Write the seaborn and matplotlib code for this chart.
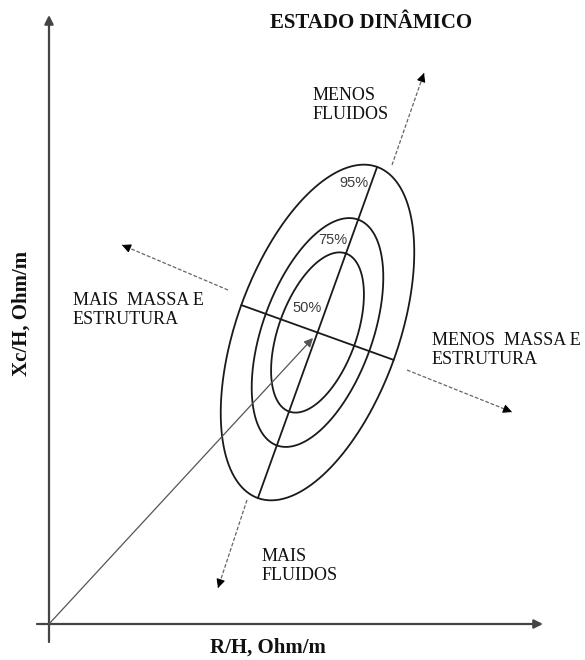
import numpy as np
import pandas as pd
import seaborn as sns
import matplotlib.pyplot as plt

# Reference point of the tolerance ellipses (R/H, Xc/H)
ellipse_center = [268.5, 291.5]
ellipse_angle = 70.2  # degrees, direction of the major axis
ellipse_levels = ['50%', '75%', '95%']
semi_major = [84, 120, 176]
semi_minor = [39, 55, 81]
level_label_x = [258, 284, 305]
level_label_y = [316, 384, 441]

# Mean vector from origin to the centre
vector_start = [0, 0]
vector_end = [264, 286]

# Direction arrows: start -> tip
arrow_names = ['menos_fluidos', 'mais_fluidos', 'mais_massa', 'menos_massa']
arrow_start_x = [343, 198, 179, 358]
arrow_start_y = [459, 124, 334, 254]
arrow_tip_x = [375, 169, 73, 463]
arrow_tip_y = [551, 36, 379, 212]

direction_texts = ['MENOS\nFLUIDOS', 'MAIS\nFLUIDOS', 'MAIS  MASSA E\nESTRUTURA', 'MENOS  MASSA E\nESTRUTURA']
text_x = [264, 213, 24, 383]
text_y = [537, 76, 332, 292]

sns.set_theme(style='white')
plt.rcParams['font.family'] = ['Liberation Serif', 'DejaVu Serif']

fig = plt.figure(figsize=(5.85, 6.6), dpi=100)
ax = fig.add_axes([0, 0, 1, 1])
ax.set_xlim(-49, 536)
ax.set_ylim(-36, 624)
ax.axis('off')

# axes drawn as arrows
ax.annotate('', xy=(0, 609), xytext=(0, -18),
            arrowprops=dict(arrowstyle='-|>', color='#444444', lw=1.6, mutation_scale=13, shrinkA=0, shrinkB=0))
ax.annotate('', xy=(494, 0), xytext=(-12, 0),
            arrowprops=dict(arrowstyle='-|>', color='#444444', lw=1.6, mutation_scale=13, shrinkA=0, shrinkB=0))

# ellipses
th = np.radians(ellipse_angle)
u = np.array([np.cos(th), np.sin(th)])
v = np.array([np.sin(th), -np.cos(th)])
t = np.linspace(0, 2 * np.pi, 300)
rows = []
for lev, a, b in zip(ellipse_levels, semi_major, semi_minor):
    xs = ellipse_center[0] + a * np.cos(t) * u[0] + b * np.sin(t) * v[0]
    ys = ellipse_center[1] + a * np.cos(t) * u[1] + b * np.sin(t) * v[1]
    rows.append(pd.DataFrame({'x': xs, 'y': ys, 'level': lev, 'order': np.arange(len(t))}))
ell = pd.concat(rows)
sns.lineplot(data=ell, x='x', y='y', units='level', estimator=None, sort=False,
             color='#1a1a1a', lw=1.3, ax=ax)

# major / minor axes of the outer ellipse
cx, cy = ellipse_center
A, B = semi_major[-1], semi_minor[-1]
ax.plot([cx - A * u[0], cx + A * u[0]], [cy - A * u[1], cy + A * u[1]], color='#1a1a1a', lw=1.3)
ax.plot([cx - B * v[0], cx + B * v[0]], [cy - B * v[1], cy + B * v[1]], color='#1a1a1a', lw=1.3)

for lab, lx, ly in zip(ellipse_levels, level_label_x, level_label_y):
    ax.text(lx, ly, lab, ha='center', va='center', fontsize=10.5, color='#3a3a3a',
            family=['Liberation Sans', 'DejaVu Sans'])

# mean vector
ax.annotate('', xy=vector_end, xytext=vector_start,
            arrowprops=dict(arrowstyle='-|>', color='#555555', lw=0.9, mutation_scale=13, shrinkA=0, shrinkB=0))

# dashed direction arrows with solid heads
for sx, sy, tx, ty in zip(arrow_start_x, arrow_start_y, arrow_tip_x, arrow_tip_y):
    ax.plot([sx, tx], [sy, ty], color='#666666', lw=0.9, ls=(0, (3, 1.5)))
    d = np.array([tx - sx, ty - sy], dtype=float)
    d /= np.linalg.norm(d)
    ax.annotate('', xy=(tx, ty), xytext=(tx - 6 * d[0], ty - 6 * d[1]),
                arrowprops=dict(arrowstyle='-|>', color='black', lw=0.8, mutation_scale=13, shrinkA=0, shrinkB=0))

for txt, tx, ty in zip(direction_texts, text_x, text_y):
    ax.text(tx, ty, txt, ha='left', va='top', fontsize=13, color='#111111', linespacing=1.15)

ax.text(322, 601, 'ESTADO DINÂMICO', ha='center', va='center', fontsize=15, fontweight='bold', color='#111111')
ax.text(219, -24, 'R/H, Ohm/m', ha='center', va='center', fontsize=15, fontweight='bold', color='#111111')
ax.text(-27, 311, 'Xc/H, Ohm/m', ha='center', va='center', rotation=90, fontsize=15, fontweight='bold', color='#111111')

plt.savefig('out.png', dpi=100)
